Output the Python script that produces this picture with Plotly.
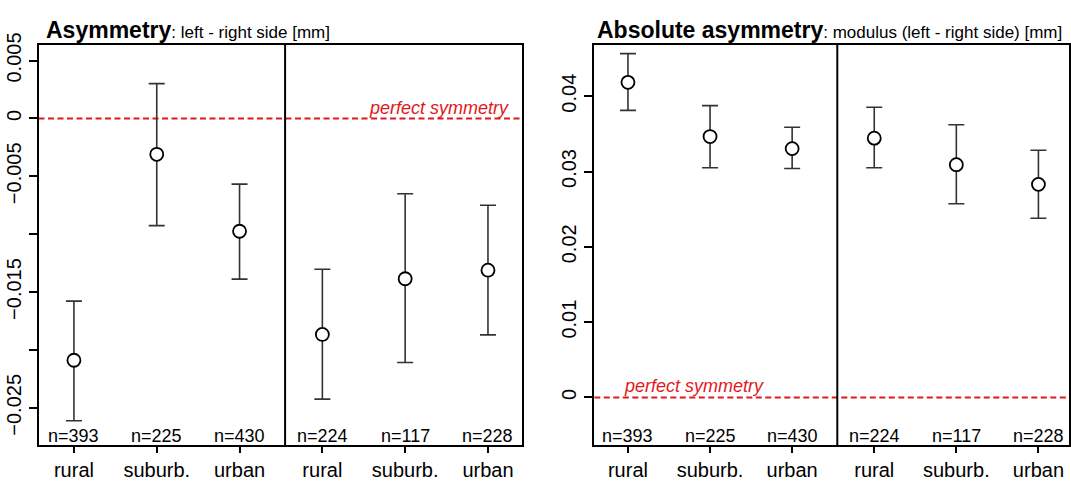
import plotly.graph_objects as go

# ---------------- data ----------------
categories = ["rural", "suburb.", "urban", "rural", "suburb.", "urban"]
n_labels = ["n=393", "n=225", "n=430", "n=224", "n=117", "n=228"]

asym_mean = [-0.02089, -0.00310, -0.00975, -0.01866, -0.01385, -0.01311]
asym_lower = [-0.02612, -0.00926, -0.01388, -0.02425, -0.02109, -0.01870]
asym_upper = [-0.01578, 0.00300, -0.00568, -0.01303, -0.00651, -0.00750]

abs_mean = [0.04184, 0.03464, 0.03304, 0.03443, 0.03090, 0.02829]
abs_lower = [0.03812, 0.03050, 0.03040, 0.03050, 0.02571, 0.02380]
abs_upper = [0.04565, 0.03875, 0.03587, 0.03854, 0.03621, 0.03282]

asym_tickvals = [0.005, 0, -0.005, -0.01, -0.015, -0.02, -0.025]
asym_ticktext = ["0.005", "0", "\u22120.005", "", "\u22120.015", "", "\u22120.025"]
abs_tickvals = [0, 0.01, 0.02, 0.03, 0.04]
abs_ticktext = ["0", "0.01", "0.02", "0.03", "0.04"]

# ---------------- style ----------------
FONT = "Liberation Sans, Arial, sans-serif"
RED = "rgb(226,24,28)"
W, H = 1071, 481
slots = list(range(1, len(categories) + 1))

fig = go.Figure()


def add_panel(mean, lower, upper, xa, ya):
    fig.add_trace(go.Scatter(
        x=slots, y=mean, mode="markers", xaxis=xa, yaxis=ya, showlegend=False,
        marker=dict(symbol="circle", size=13, color="white",
                    line=dict(color="black", width=1.8)),
        error_y=dict(type="data", symmetric=False,
                     array=[u - m for u, m in zip(upper, mean)],
                     arrayminus=[m - l for m, l in zip(mean, lower)],
                     color="#333333", thickness=1.6, width=8),
    ))


add_panel(asym_mean, asym_lower, asym_upper, "x", "y")
add_panel(abs_mean, abs_lower, abs_upper, "x2", "y2")

ydom = [1 - 453.0 / H, 1 - 34.5 / H]
axis_common = dict(showline=True, linecolor="black", linewidth=2, mirror=True,
                   showgrid=False, zeroline=False, ticks="outside",
                   tickwidth=1.5, tickcolor="black")

fig.update_layout(
    width=W, height=H, margin=dict(l=0, r=0, t=0, b=0),
    paper_bgcolor="white", plot_bgcolor="white",
    font=dict(family=FONT, color="black"),
    xaxis=dict(domain=[38.5 / W, 522 / W], range=[0.572, 6.411], tickvals=slots,
               ticktext=categories, tickfont=dict(size=20), ticklen=6,
               anchor="y", **axis_common),
    yaxis=dict(domain=ydom, range=[-0.02823, 0.00634], tickvals=asym_tickvals,
               ticktext=asym_ticktext, tickangle=-90, tickfont=dict(size=20),
               ticklen=8, anchor="x", **axis_common),
    xaxis2=dict(domain=[594.3 / W, 1069.3 / W], range=[0.59, 6.376], tickvals=slots,
                ticktext=categories, tickfont=dict(size=20), ticklen=6,
                anchor="y2", **axis_common),
    yaxis2=dict(domain=ydom, range=[-0.00635, 0.0468], tickvals=abs_tickvals,
                ticktext=abs_ticktext, tickangle=-90, tickfont=dict(size=20),
                ticklen=8, anchor="x2", **axis_common),
)

# reference lines (perfect symmetry) and group dividers
for xr, yr in (("x", "y"), ("x2", "y2")):
    fig.add_shape(type="line", xref=f"{xr} domain", yref=yr, x0=0, x1=1, y0=0, y1=0,
                  line=dict(color=RED, width=2, dash="6px,3.5px"), layer="below")
    fig.add_shape(type="line", xref=xr, yref=f"{yr} domain", x0=3.55, x1=3.55, y0=0, y1=1,
                  line=dict(color="black", width=2))

# sample sizes
for xr in ("x", "x2"):
    for s, lab in zip(slots, n_labels):
        fig.add_annotation(x=s, xref=xr, y=1 - 443 / H, yref="paper", text=lab,
                           showarrow=False, font=dict(size=18), yanchor="middle")

# titles
fig.add_annotation(x=44 / W, y=1 - 19 / H, xref="paper", yref="paper", xanchor="left",
                   yanchor="middle", showarrow=False,
                   text='<span style="font-size:23px"><b>Asymmetry</b></span>: left - right side [mm]',
                   font=dict(size=17))
fig.add_annotation(x=595 / W, y=1 - 19 / H, xref="paper", yref="paper", xanchor="left",
                   yanchor="middle", showarrow=False,
                   text='<span style="font-size:23px"><b>Absolute asymmetry</b></span>: modulus (left - right side) [mm]',
                   font=dict(size=17))

# perfect symmetry labels
fig.add_annotation(x=511 / W, y=1 - 100 / H, xref="paper", yref="paper", xanchor="right",
                   yanchor="middle", showarrow=False, text="<i>perfect symmetry</i>",
                   font=dict(size=18, color=RED))
fig.add_annotation(x=622 / W, y=1 - 391.5 / H, xref="paper", yref="paper", xanchor="left",
                   yanchor="middle", showarrow=False, text="<i>perfect symmetry</i>",
                   font=dict(size=18, color=RED))

fig.write_html("out.html", config={"displayModeBar": False},
               post_script="document.body.style.margin='0px';document.body.style.overflow='hidden';")
